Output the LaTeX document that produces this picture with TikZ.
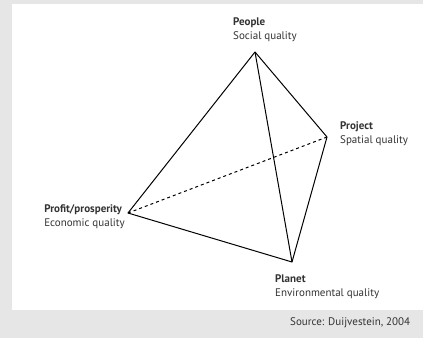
\documentclass[tikz,border=0pt]{standalone}
\usepackage{fontspec}
\setmainfont{PT Sans}
\usetikzlibrary{positioning}

\definecolor{panelgray}{HTML}{E6E6E6}
\definecolor{labelgray}{HTML}{333333}

\begin{document}
\begin{tikzpicture}[x=1pt,y=-1pt,
  label/.style={align=left,text=labelgray,font=\fontsize{11}{14}\selectfont,inner sep=0pt},
  side/.style={line width=1pt,line join=round}]
\fill[panelgray] (0,0) rectangle (423,338);
\fill[white] (12,4) rectangle (423,310);
\useasboundingbox (0,0) rectangle (423,338);

\coordinate (people) at (255,52);
\coordinate (project) at (327,137);
\coordinate (profit) at (128,213);
\coordinate (planet) at (292,262);

\node[label,anchor=west] at (233,30) (peoplelabel){\textbf{People}\\Social quality};
\node[label,anchor=west] at (340,134) (projectlabel){\textbf{Project}\\Spatial quality};
\node[label,anchor=east] at (125,217) (profitlabel){\textbf{Profit/prosperity}\\Economic quality};
\node[label,anchor=west] at (275,287) (planetlabel){\textbf{Planet}\\Environmental quality};
\node[label,anchor=west] at (290,323) (source){Source: Duijvestein, 2004};

\draw[side] (profit) -- (people) -- (project) -- (planet) -- cycle;
\draw[side] (people) -- (planet);
\draw[side,dashed] (profit) -- (project);

\end{tikzpicture}
\end{document}
